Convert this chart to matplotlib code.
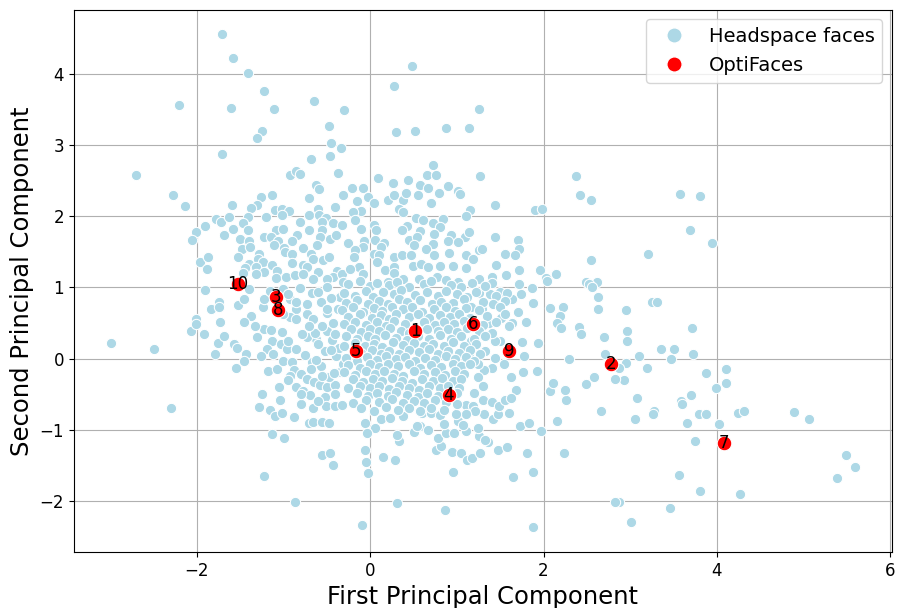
import numpy as np
import matplotlib
matplotlib.use("Agg")
import matplotlib.pyplot as plt
from matplotlib.lines import Line2D

# Headspace faces (PC1, PC2)
headspace_points = [
    # upper-left sparse region
    (-1.71, 4.55), (-1.58, 4.22), (-1.41, 4.01), (-1.22, 3.76), (-2.20, 3.56), (-1.60, 3.52),
    (-1.11, 3.50), (-0.65, 3.61), (-0.475, 3.27), (-0.30, 3.49), (-1.25, 3.20), (-1.30, 3.10),
    (-0.45, 3.03), (-0.34, 2.95), (-0.46, 2.85), (-1.71, 2.87), (-0.68, 2.80), (-2.70, 2.58),
    (-0.92, 2.58), (-0.86, 2.63), (-0.81, 2.59), (-0.37, 2.61), (-0.63, 2.44), (-0.595, 2.38),
    (-0.31, 2.29), (-2.27, 2.30), (-2.14, 2.14), (-1.13, 2.30), (-1.26, 2.27), (-0.71, 2.25),
    (-1.59, 2.16), (-1.30, 2.16), (-1.38, 2.11), (-0.41, 2.13), (-0.60, 2.10), (-1.10, 2.08),
    (-1.02, 2.10), (-0.94, 2.07), (-1.78, 1.96), (-1.72, 1.92), (-1.63, 1.98), (-1.41, 1.98),
    (-1.20, 1.98), (-1.02, 2.01), (-0.705, 2.01), (-0.595, 2.02), (-0.51, 1.97), (-1.465, 1.90),
    (-0.81, 1.92), (-0.56, 1.92), (-0.43, 1.90), (-0.33, 1.87), (-1.90, 1.86), (-2.01, 1.77),
    (-2.06, 1.67), (-1.69, 1.74), (-1.58, 1.82), (-1.415, 1.80), (-1.085, 1.80), (-1.00, 1.82),
    (-0.705, 1.80), (-0.56, 1.80), (-0.84, 1.73), (-1.23, 1.71), (-1.14, 1.70), (-1.06, 1.65),
    (-0.90, 1.65), (-0.575, 1.71), (-0.46, 1.68), (-0.39, 1.74), (-1.50, 1.68), (-1.40, 1.65),
    (-1.11, 1.59), (-0.99, 1.55), (-0.77, 1.55), (-0.61, 1.60), (-1.48, 1.54), (-1.39, 1.57),
    (-0.98, 1.49), (-0.90, 1.47), (-0.68, 1.47), (-1.28, 1.47), (-1.52, 1.43), (-1.96, 1.36),
    (-1.87, 1.43), (-1.88, 1.26), (-1.40, 1.33), (-1.29, 1.40), (-1.24, 1.36), (-1.13, 1.31),
    (-0.90, 1.34), (-0.77, 1.31), (-0.66, 1.40), (-0.54, 1.39), (-0.48, 1.43), (-0.73, 1.29),
    (-1.32, 1.29), (-1.22, 1.21), (-1.44, 1.27), (-1.47, 1.20), (-1.315, 1.18), (-1.07, 1.23),
    (-1.09, 1.13), (-0.975, 1.15), (-0.87, 1.17), (-0.77, 1.19), (-0.60, 1.22), (-0.38, 1.23),
    (-0.43, 1.15), (-0.33, 1.18), (-0.31, 1.08), (-0.66, 1.11), (-0.50, 1.11),
    # upper-middle region
    (0.48, 4.10), (0.27, 3.83), (1.25, 3.50), (0.30, 3.18), (0.52, 3.19), (0.87, 3.24),
    (1.14, 3.24), (0.72, 2.71), (0.66, 2.58), (0.76, 2.58), (0.09, 2.54), (0.26, 2.47),
    (0.44, 2.51), (0.57, 2.44), (0.67, 2.40), (0.90, 2.42), (1.27, 2.56), (2.38, 2.56),
    (2.42, 2.30), (2.55, 2.23), (-0.21, 2.40), (-0.08, 2.40), (-0.03, 2.27), (-0.15, 2.21),
    (0.05, 2.18), (0.20, 2.22), (0.28, 2.30), (0.38, 2.22), (0.41, 2.32), (0.55, 2.29),
    (0.70, 2.19), (0.79, 2.33), (1.01, 2.35), (1.04, 2.31), (1.44, 2.16), (1.90, 2.09),
    (1.98, 2.10), (0.33, 2.10), (0.38, 2.06), (-0.10, 2.07), (-0.20, 2.06), (1.15, 2.09),
    (1.10, 2.00), (0.53, 1.97), (0.61, 1.95), (0.84, 1.96), (-0.17, 1.94), (0.05, 1.87),
    (0.72, 1.90), (0.81, 1.84), (0.43, 1.86), (0.37, 1.81), (0.57, 1.79), (-0.10, 1.82),
    (0.07, 1.80), (0.74, 1.75), (0.93, 1.73), (1.09, 1.71), (1.14, 1.77), (1.44, 1.71),
    (1.71, 1.67), (0.45, 1.67), (0.54, 1.70), (0.90, 1.65), (1.01, 1.63), (-0.07, 1.65),
    (0.06, 1.66), (0.16, 1.62), (-0.25, 1.62), (0.13, 1.57), (0.50, 1.59), (0.73, 1.61),
    (0.64, 1.54), (1.26, 1.53), (1.29, 1.54), (1.72, 1.54), (-0.08, 1.56), (-0.17, 1.53),
    (0.05, 1.47), (0.10, 1.45), (0.28, 1.43), (0.37, 1.45), (0.475, 1.45), (0.74, 1.46),
    (0.91, 1.48), (1.10, 1.45), (1.19, 1.40), (1.55, 1.47), (1.67, 1.46), (2.55, 1.39),
    (-0.19, 1.43), (-0.13, 1.29), (0.08, 1.36), (0.17, 1.24), (0.28, 1.29), (0.49, 1.30),
    (0.59, 1.33), (0.67, 1.28), (0.80, 1.30), (0.96, 1.30), (1.11, 1.27), (1.45, 1.31),
    (1.72, 1.24), (1.96, 1.24), (-0.23, 1.25), (-0.08, 1.18), (0.28, 1.20), (0.38, 1.12),
    (0.56, 1.11), (0.77, 1.15), (0.87, 1.10), (1.25, 1.12), (1.41, 1.14), (1.57, 1.17),
    (2.025, 1.135), (2.14, 1.18), (2.49, 1.07), (2.62, 1.08), (1.01, 1.07), (0.20, 1.07),
    # upper-right region
    (3.57, 2.31), (3.81, 2.28), (3.69, 1.80), (3.94, 1.62), (3.21, 1.47),
    # lower-right region
    (3.25, 0.80), (3.31, 0.80), (2.95, 0.68), (3.71, 0.435), (2.96, 0.39), (2.96, 0.25),
    (3.36, 0.14), (3.50, 0.14), (3.10, 0.04), (3.47, -0.01), (3.73, 0.065), (2.95, -0.06),
    (2.865, -0.13), (3.195, -0.13), (3.87, -0.20), (4.10, -0.145), (4.11, -0.35), (3.985, -0.415),
    (2.93, -0.30), (3.08, -0.55), (3.70, -0.505), (3.585, -0.60), (3.60, -0.64), (3.27, -0.73),
    (3.26, -0.78), (3.05, -0.85), (3.79, -0.785), (3.87, -0.785), (3.65, -0.90), (4.02, -0.925),
    (4.24, -0.77), (4.31, -0.74), (4.89, -0.75), (5.06, -0.85), (3.75, -1.16), (5.485, -1.35),
    (5.59, -1.52), (5.38, -1.68), (3.56, -1.64), (3.81, -1.865), (4.27, -1.90), (2.865, -2.02),
    (3.46, -2.10), (3.01, -2.30), (2.70, 0.30),
    # lower-left region
    (-1.90, 0.96), (-1.74, 0.80), (-1.84, 0.70), (-1.74, 0.72), (-2.01, 0.55), (-2.07, 0.38),
    (-2.01, 0.48), (-1.92, 0.35), (-1.73, 0.51), (-2.99, 0.215), (-2.49, 0.13), (-1.75, 0.22),
    (-1.69, 0.31), (-1.79, 0.06), (-1.57, 0.21), (-1.54, 0.15), (-1.43, 0.07), (-1.46, -0.03),
    (-1.55, -0.13), (-2.30, -0.70), (-1.18, -0.17), (-1.07, -0.14), (-1.25, -0.50), (-1.28, -0.68),
    (-1.16, -0.72), (-1.04, -0.575), (-1.10, -0.81), (-1.02, -0.77), (-0.88, -0.82), (-0.80, -0.64),
    (-0.66, -0.70), (-0.52, -0.54), (-0.51, -0.67), (-0.41, -0.66), (-0.33, -0.655), (-0.71, -0.90),
    (-0.66, -0.89), (-0.56, -0.89), (-0.48, -0.90), (-1.13, -1.06), (-0.99, -1.11), (-0.56, -1.36),
    (-0.46, -1.32), (-0.43, -1.50), (-1.23, -1.655), (-0.87, -2.02),
    (-1.23, 0.41), (-1.14, 0.40), (-1.02, 0.37), (-1.13, 0.25), (-1.03, 0.20), (-0.96, 0.14),
    (-0.855, 0.13), (-1.185, 0.13), (-1.26, 0.04), (-1.12, 0.06), (-1.00, -0.04), (-0.90, -0.05),
    (-0.88, -0.16), (-0.92, -0.25), (-0.80, -0.215), (-0.73, -0.285), (-0.86, -0.40), (-0.77, -0.46),
    (-0.69, -0.51), (-0.65, -0.33), (-0.58, -0.365), (-0.50, -0.40), (-0.40, -0.365), (-0.675, -0.05),
    (-0.57, -0.11), (-0.48, -0.26), (-0.35, -0.19), (-0.31, -0.08), (-0.39, 0.03), (-0.52, 0.10),
    (-0.625, 0.27), (-0.73, 0.30), (-0.79, 0.35), (-0.64, 0.36), (-0.50, 0.38), (-0.36, 0.15),
    (-0.445, 0.26), (-1.33, 0.46), (-1.37, 0.60), (-1.46, 0.52), (-1.53, 0.75), (-1.45, 0.83),
    (-1.40, 0.97), (-1.24, 0.73), (-1.22, 0.83), (-0.92, 0.83), (-0.86, 0.70), (-0.92, 0.585),
    (-0.73, 0.62), (-0.66, 0.55), (-0.57, 0.80), (-0.50, 0.64), (-0.37, 0.69), (-0.43, 0.50),
    (-0.73, 0.76), (-0.675, 0.92), (-1.00, 0.97), (-0.81, 0.99), (-0.50, 1.01), (-0.35, 0.87),
    (-1.15, 0.95), (-0.95, 0.90), (-0.60, 0.93), (-0.45, 0.85), (-1.00, 0.62), (-0.85, 0.55),
    (-0.55, 0.45), (-0.40, 0.35), (-0.70, 0.45), (-0.60, 0.20), (-0.45, 0.12), (-0.75, 0.05),
    (-0.62, -0.02), (-0.42, -0.20), (-0.55, -0.25), (-0.68, -0.15), (-0.40, -0.50), (-0.60, -0.60),
    (-0.80, -0.50), (-0.95, -0.30), (-1.05, -0.40), (-0.50, 0.70), (-0.85, 0.80), (-1.30, 0.30),
    (-0.95, 0.25),
    # lower-middle region
    (-0.06, -1.28), (-0.05, -1.45), (-0.02, -1.61), (0.15, -1.38), (0.29, -1.43), (0.31, -2.03),
    (0.86, -2.12), (-0.09, -2.34), (1.875, -2.37), (0.96, -1.59), (1.65, -1.665), (1.875, -1.59),
    (1.81, -1.33), (2.24, -1.33), (2.83, -2.02), (0.76, -1.29), (0.82, -1.23), (0.94, -1.31),
    (1.05, -1.33), (1.12, -1.43), (1.18, -1.40), (1.27, -1.32), (1.48, -1.29), (1.58, -1.24),
    (0.33, -1.16), (0.31, -1.07), (0.50, -1.03), (0.58, -0.94), (0.67, -1.00), (0.78, -1.12),
    (0.88, -1.04), (0.97, -1.05), (1.10, -1.02), (1.26, -1.09), (1.36, -1.17), (1.33, -1.14),
    (0.06, -0.97), (-0.06, -0.90), (-0.04, -1.05), (0.12, -0.85), (0.23, -0.83), (0.38, -0.81),
    (0.54, -0.94), (0.60, -0.76), (0.70, -0.77), (0.80, -0.79), (0.85, -0.92), (1.01, -0.88),
    (1.07, -0.93), (1.24, -0.97), (1.31, -0.785), (1.42, -0.85), (1.48, -0.785), (1.60, -0.76),
    (1.73, -0.94), (1.83, -0.90), (1.97, -1.02), (2.15, -0.875), (2.66, -0.74), (2.255, -0.585),
    (2.25, -0.435), (2.08, -0.46), (2.11, -0.34), (2.49, -0.355), (2.585, -0.26), (2.82, -0.29),
    (2.71, 0.065), (2.29, 0.00), (1.93, -0.18), (1.76, -0.19), (1.62, -0.26), (1.68, -0.435),
    (1.94, 0.22), (1.75, 0.23), (1.78, 0.03), (1.88, 0.78), (2.08, 0.71), (2.22, 0.725),
    (2.19, 0.60), (2.15, 0.50), (2.20, 0.43), (2.41, 0.445), (2.43, 0.34), (2.63, 0.865),
    (2.63, 0.70), (2.52, 1.04), (2.56, 1.01), (1.795, 0.52), (1.64, 0.50), (1.70, 0.65),
    (1.745, 0.90), (1.87, 0.99), (1.64, 0.83), (1.60, 0.45), (1.50, 0.25), (1.435, 0.24),
    (1.33, 0.10), (1.44, 0.01), (1.545, -0.08), (1.41, -0.13), (1.31, -0.16), (1.24, -0.26),
    (1.30, -0.39), (1.20, -0.48), (1.10, -0.645), (1.19, -0.66), (1.30, -0.585), (1.40, -0.61),
    (1.49, -0.66), (1.56, -0.575), (1.62, -0.55), (1.21, -0.74), (1.11, -0.785), (0.99, -0.775),
    (1.24, -0.08), (1.14, 0.04), (1.16, 0.24), (1.37, 0.50), (1.51, 0.57), (1.285, 0.69),
    (1.16, 0.73), (1.38, 0.90), (1.50, 0.94), (1.26, 0.92), (1.41, 1.06), (1.72, 1.05),
    (2.04, 1.085),
    # dense core
    (-0.25, 1.04), (-0.12, 1.09), (0.0, 1.02), (0.08, 1.06), (0.22, 1.03), (0.31, 1.08),
    (0.45, 1.01), (0.62, 1.05), (0.70, 1.09), (0.93, 1.03), (1.05, 1.00), (1.18, 1.06), (1.33, 1.02),
    (-0.30, 0.92), (-0.18, 0.88), (-0.05, 0.95), (0.03, 0.87), (0.15, 0.93), (0.27, 0.90),
    (0.35, 0.96), (0.52, 0.89), (0.66, 0.94), (0.78, 0.88), (0.88, 0.95), (1.00, 0.91),
    (1.12, 0.86), (1.22, 0.93), (1.45, 0.88), (1.58, 0.92),
    (-0.28, 0.78), (-0.15, 0.82), (-0.02, 0.76), (0.10, 0.81), (0.20, 0.77), (0.33, 0.83),
    (0.42, 0.79), (0.58, 0.82), (0.71, 0.76), (0.82, 0.80), (0.95, 0.78), (1.08, 0.83),
    (1.30, 0.79), (1.42, 0.76), (1.55, 0.81),
    (-0.33, 0.68), (-0.20, 0.72), (-0.08, 0.66), (0.05, 0.71), (0.14, 0.67), (0.25, 0.73),
    (0.38, 0.69), (0.48, 0.72), (0.60, 0.66), (0.74, 0.70), (0.87, 0.73), (0.98, 0.67),
    (1.10, 0.71), (1.25, 0.68), (1.50, 0.72),
    (-0.25, 0.58), (-0.12, 0.62), (0.02, 0.57), (0.12, 0.61), (0.22, 0.56), (0.30, 0.63),
    (0.45, 0.59), (0.55, 0.62), (0.68, 0.57), (0.80, 0.61), (0.92, 0.58), (1.03, 0.63),
    (1.15, 0.57), (1.35, 0.60), (1.55, 0.62),
    (-0.30, 0.48), (-0.18, 0.52), (-0.05, 0.47), (0.08, 0.51), (0.18, 0.46), (0.28, 0.53),
    (0.40, 0.49), (0.62, 0.52), (0.75, 0.47), (0.85, 0.51), (0.97, 0.48), (1.08, 0.53),
    (1.30, 0.47), (1.45, 0.52),
    (-0.22, 0.41), (-0.10, 0.37), (0.00, 0.42), (0.10, 0.38), (0.23, 0.43), (0.35, 0.39),
    (0.45, 0.36), (0.65, 0.42), (0.78, 0.38), (0.90, 0.41), (1.00, 0.37), (1.12, 0.43),
    (1.25, 0.39), (1.40, 0.36),
    (-0.28, 0.31), (-0.15, 0.27), (-0.03, 0.32), (0.06, 0.28), (0.17, 0.33), (0.30, 0.29),
    (0.42, 0.26), (0.55, 0.31), (0.68, 0.28), (0.80, 0.33), (0.93, 0.27), (1.05, 0.32),
    (1.20, 0.28), (1.32, 0.31),
    (-0.30, 0.18), (-0.18, 0.22), (-0.06, 0.17), (0.04, 0.21), (0.14, 0.16), (0.26, 0.23),
    (0.38, 0.19), (0.50, 0.22), (0.62, 0.17), (0.72, 0.21), (0.85, 0.18), (0.96, 0.23),
    (1.08, 0.17), (1.22, 0.20),
    (-0.10, 0.08), (0.02, 0.12), (0.12, 0.07), (0.22, 0.11), (0.33, 0.06), (0.45, 0.12),
    (0.56, 0.09), (0.68, 0.13), (0.78, 0.07), (0.90, 0.11), (1.02, 0.08), (1.15, 0.12), (1.27, 0.07),
    (-0.28, 0.01), (-0.15, -0.03), (-0.04, 0.02), (0.08, -0.02), (0.18, 0.03), (0.30, -0.01),
    (0.40, 0.02), (0.52, -0.03), (0.63, 0.01), (0.75, -0.02), (0.87, 0.03), (0.98, -0.01),
    (1.10, 0.02), (1.20, -0.03),
    (-0.25, -0.09), (-0.12, -0.13), (0.00, -0.08), (0.10, -0.12), (0.20, -0.07), (0.32, -0.11),
    (0.45, -0.08), (0.57, -0.13), (0.70, -0.09), (0.82, -0.12), (0.95, -0.07), (1.05, -0.11),
    (1.15, -0.08),
    (-0.30, -0.19), (-0.18, -0.23), (-0.05, -0.18), (0.06, -0.22), (0.16, -0.17), (0.28, -0.21),
    (0.38, -0.24), (0.50, -0.18), (0.62, -0.22), (0.75, -0.19), (0.86, -0.23), (0.98, -0.17),
    (1.08, -0.21),
    (-0.20, -0.29), (-0.08, -0.33), (0.03, -0.28), (0.14, -0.32), (0.25, -0.27), (0.37, -0.31),
    (0.48, -0.34), (0.60, -0.29), (0.72, -0.32), (0.83, -0.27), (0.95, -0.31), (1.05, -0.28),
    (-0.25, -0.41), (-0.12, -0.38), (0.00, -0.42), (0.10, -0.39), (0.22, -0.43), (0.33, -0.38),
    (0.45, -0.41), (0.56, -0.44), (0.68, -0.39), (0.80, -0.42), (0.90, -0.38), (1.02, -0.41),
    (-0.15, -0.49), (-0.02, -0.53), (0.08, -0.48), (0.20, -0.52), (0.30, -0.47), (0.42, -0.51),
    (0.55, -0.54), (0.66, -0.49), (0.78, -0.52), (1.00, -0.48),
    (-0.20, -0.62), (-0.05, -0.58), (0.10, -0.61), (0.25, -0.57), (0.38, -0.63), (0.50, -0.59),
    (0.62, -0.62), (0.75, -0.58), (0.88, -0.61), (1.00, -0.64),
    (-0.10, -0.69), (0.05, -0.73), (0.18, -0.68), (0.32, -0.72), (0.45, -0.70), (0.58, -0.74),
    (0.70, -0.69), (0.85, -0.72),
]
headspace_pc1 = [p[0] for p in headspace_points]
headspace_pc2 = [p[1] for p in headspace_points]

# OptiFaces
opti_labels = ["1", "2", "3", "4", "5", "6", "7", "8", "9", "10"]
opti_pc1 = [0.52, 2.78, -1.09, 0.905, -0.16, 1.19, 4.085, -1.06, 1.60, -1.527]
opti_pc2 = [0.39, -0.07, 0.86, -0.51, 0.11, 0.49, -1.19, 0.68, 0.10, 1.05]

fig = plt.figure(figsize=(9, 6.08), dpi=100)
ax = fig.add_axes([0.082, 0.092, 0.909, 0.892])
ax.set_axisbelow(True)
ax.grid(True, color="#b0b0b0", linewidth=0.8)

ax.scatter(headspace_pc1, headspace_pc2, s=55, color="lightblue",
           edgecolor="white", linewidth=0.75, zorder=2)
ax.scatter(opti_pc1, opti_pc2, s=110, color="red",
           edgecolor="white", linewidth=0.75, zorder=3)
for lab, x, y in zip(opti_labels, opti_pc1, opti_pc2):
    ax.text(x, y, lab, ha="center", va="center", fontsize=12, color="black", zorder=4)

ax.set_xlabel("First Principal Component", fontsize=17.5)
ax.set_ylabel("Second Principal Component", fontsize=17.5)
ax.tick_params(labelsize=12)

handles = [
    Line2D([], [], linestyle="none", marker="o", markersize=11, color="lightblue",
           markeredgecolor="white", label="Headspace faces"),
    Line2D([], [], linestyle="none", marker="o", markersize=11, color="red",
           markeredgecolor="white", label="OptiFaces"),
]
ax.legend(handles=handles, loc="upper right", fontsize=14)

fig.savefig("out.png", dpi=100)
